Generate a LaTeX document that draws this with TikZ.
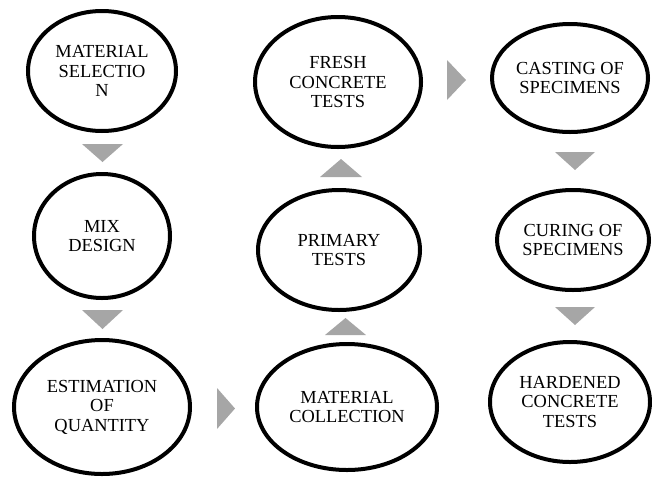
\documentclass[tikz,border=0pt]{standalone}
\usepackage{fontspec}
\setmainfont{Liberation Serif}
\usetikzlibrary{shapes.geometric}
\definecolor{arrowgray}{HTML}{A6A6A6}
\begin{document}
\begin{tikzpicture}[x=1pt, y=-1pt,
        stage/.style={ellipse, draw=black, line width=4pt, inner sep=0pt, align=center,
            font=\fontsize{18.4}{19.5}\selectfont}]
            \useasboundingbox (0,0) rectangle (652,477);
            % first column
            \node[stage, minimum width=148pt, minimum height=120pt] (matsel) at (102,71) {MATERIAL\\SELECTIO\\N};
            \node[stage, minimum width=136pt, minimum height=124pt] (mix) at (102,236) {MIX\\DESIGN};
            \node[stage, minimum width=176pt, minimum height=134pt] (est) at (102,407) {ESTIMATION\\OF\\QUANTITY};
            % second column
            \node[stage, minimum width=180pt, minimum height=126pt] (collect) at (347,407) {MATERIAL\\COLLECTION};
            \node[stage, minimum width=162pt, minimum height=120pt] (primary) at (339,250) {PRIMARY\\TESTS};
            \node[stage, minimum width=166pt, minimum height=130pt] (fresh) at (338,82) {FRESH\\CONCRETE\\TESTS};
            % third column
            \node[stage, minimum width=156pt, minimum height=108pt] (casting) at (570,78) {CASTING OF\\SPECIMENS};
            \node[stage, minimum width=152pt, minimum height=100pt] (curing) at (573,240) {CURING OF\\SPECIMENS};
            \node[stage, minimum width=160pt, minimum height=120pt] (hardened) at (570,402) {HARDENED\\CONCRETE\\TESTS};
            % arrows
            \fill[arrowgray] (82,144) -- (123,144) -- (102.5,162) -- cycle;
            \fill[arrowgray] (82,310) -- (123,310) -- (102.5,329) -- cycle;
            \fill[arrowgray] (217,388) -- (235,408.5) -- (217,429) -- cycle;
            \fill[arrowgray] (325,335) -- (366,335) -- (345.5,318) -- cycle;
            \fill[arrowgray] (320,177) -- (362,177) -- (341,159) -- cycle;
            \fill[arrowgray] (447,60) -- (466,80) -- (447,100) -- cycle;
            \fill[arrowgray] (555,152) -- (595,152) -- (575,170) -- cycle;
            \fill[arrowgray] (555,307) -- (595,307) -- (575,325) -- cycle;
        \end{tikzpicture}
\end{document}
